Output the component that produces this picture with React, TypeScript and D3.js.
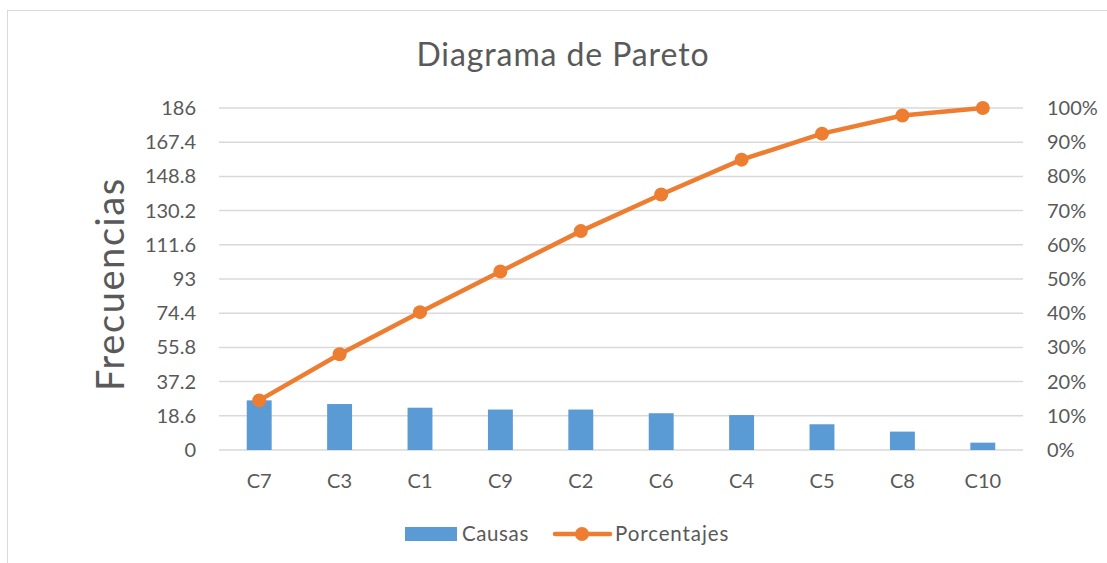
import React from "react";
import * as d3 from "d3";

const categories = ["C7", "C3", "C1", "C9", "C2", "C6", "C4", "C5", "C8", "C10"];
const causas = [27, 25, 23, 22, 22, 20, 19, 14, 10, 4];
const porcentajes = [0.145, 0.28, 0.403, 0.522, 0.64, 0.747, 0.849, 0.925, 0.978, 1.0];
const leftTicks = [0, 18.6, 37.2, 55.8, 74.4, 93, 111.6, 130.2, 148.8, 167.4, 186];
const rightTicks = [0, 0.1, 0.2, 0.3, 0.4, 0.5, 0.6, 0.7, 0.8, 0.9, 1.0];

const W = 1107;
const H = 563;
const FONT = "Lato, 'Open Sans', sans-serif";
const TXT = "#595959";
const BLUE = "#5B9BD5";
const ORANGE = "#ED7D31";
const GRID = "#d9d9d9";

export default function App() {
  const left = 219, right = 1023, top = 108, bottom = 450;
  const x = d3.scaleBand<string>().domain(categories).range([left, right]).paddingInner(0.69).paddingOuter(0.345);
  const xc = (c: string) => (x(c) as number) + x.bandwidth() / 2;
  const yL = d3.scaleLinear().domain([0, 186]).range([bottom, top]);
  const yR = d3.scaleLinear().domain([0, 1]).range([bottom, top]);
  const line = d3.line<number>().x((_, i) => xc(categories[i])).y((d) => yR(d));
  const pctFmt = d3.format(".0%");

  return (
    <svg width={W} height={H} style={{ position: "absolute", left: 0, top: 0, background: "#fff" }} fontFamily={FONT}>
      <rect x={7.5} y={10.5} width={1110} height={570} fill="#fff" stroke={GRID} strokeWidth={1} />
      <text x={563} y={66} textAnchor="middle" fontSize={32} letterSpacing={0.9} fill={TXT}>Diagrama de Pareto</text>
      <text transform={`translate(124,${yL(93) + 5}) rotate(-90)`} textAnchor="middle" fontSize={38} letterSpacing={1.6} fill={TXT}>Frecuencias</text>
      {leftTicks.map((t) => (
        <g key={"g" + t}>
          <line x1={left} x2={right} y1={yL(t)} y2={yL(t)} stroke={GRID} strokeWidth={1.5} />
          <text x={196} y={yL(t)} dy="0.35em" textAnchor="end" fontSize={20} fill={TXT}>{t}</text>
        </g>
      ))}
      {rightTicks.map((t) => (
        <text key={"r" + t} x={1047} y={yR(t)} dy="0.35em" textAnchor="start" fontSize={20} fill={TXT}>{pctFmt(t)}</text>
      ))}
      {categories.map((c, i) => (
        <g key={c}>
          <rect x={x(c)} y={yL(causas[i])} width={x.bandwidth()} height={bottom - yL(causas[i])} fill={BLUE} />
          <text x={xc(c)} y={481} dy="0.35em" textAnchor="middle" fontSize={20} fill={TXT}>{c}</text>
        </g>
      ))}
      <path d={line(porcentajes) as string} fill="none" stroke={ORANGE} strokeWidth={4.5} strokeLinejoin="round" strokeLinecap="round" />
      {porcentajes.map((p, i) => (
        <circle key={"p" + i} cx={xc(categories[i])} cy={yR(p)} r={7} fill={ORANGE} />
      ))}
      <rect x={405} y={527} width={52} height={14} fill={BLUE} />
      <text x={462} y={534} dy="0.35em" fontSize={20.5} letterSpacing={0.6} fill={TXT}>Causas</text>
      <line x1={555} x2={610} y1={534} y2={534} stroke={ORANGE} strokeWidth={4.5} strokeLinecap="round" />
      <circle cx={582} cy={534} r={7} fill={ORANGE} />
      <text x={615} y={534} dy="0.35em" fontSize={20.5} letterSpacing={0.9} fill={TXT}>Porcentajes</text>
    </svg>
  );
}
